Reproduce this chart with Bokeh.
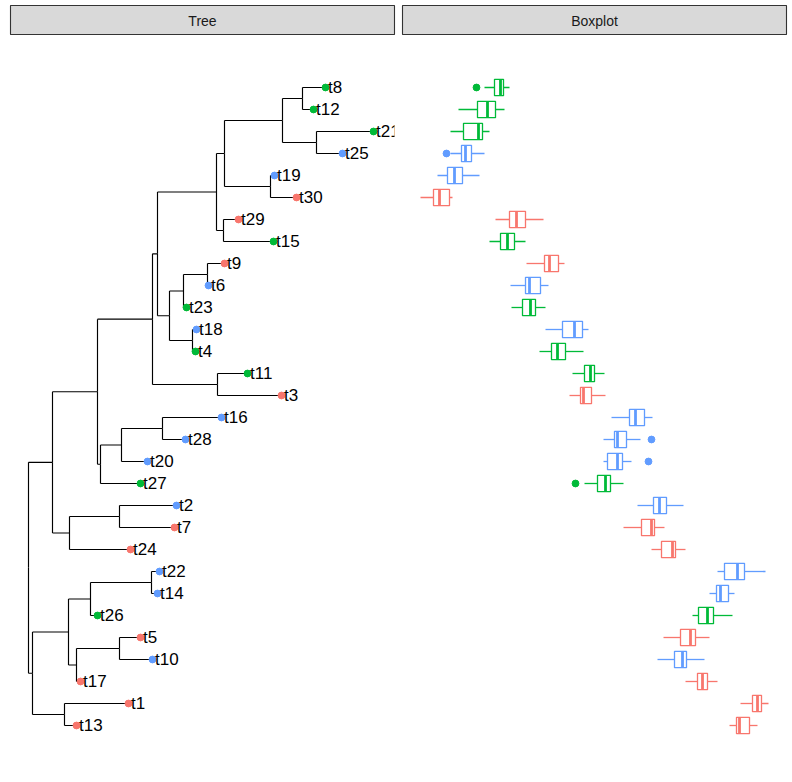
from bokeh.plotting import figure
from bokeh.layouts import row, column
from bokeh.models import Range1d, ColumnDataSource
from bokeh.core.properties import value
from bokeh.embed import file_html
from bokeh.resources import INLINE

# ---------------- data ----------------
panel_titles = ["Tree", "Boxplot"]

# tips listed from top to bottom
tip_order = ["t8", "t12", "t21", "t25", "t19", "t30", "t29", "t15", "t9", "t6",
             "t23", "t18", "t4", "t11", "t3", "t16", "t28", "t20", "t27", "t2",
             "t7", "t24", "t22", "t14", "t26", "t5", "t10", "t17", "t1", "t13"]
tip_group = ["b", "b", "b", "c", "c", "a", "a", "b", "a", "c",
             "b", "c", "b", "b", "a", "c", "c", "c", "b", "c",
             "a", "a", "c", "c", "b", "a", "c", "a", "a", "a"]
group_levels = ["a", "b", "c"]
group_colors = ["#F8766D", "#00BA38", "#619CFF"]

# tree edges: parent, child, branch length
edge_parent = ["n0", "n0", "n1", "n1", "n2", "n2", "n3", "n3", "n4", "n4",
               "n5", "n5", "n6", "n6", "n7", "n7", "n8", "n8", "n9", "n9",
               "n10", "n10", "n11", "n11", "n12", "n12", "n13", "n13", "n14", "n14",
               "n15", "n15", "n16", "n16", "n17", "n17", "n18", "n18", "n19", "n19",
               "n20", "n20", "n21", "n21", "n22", "n22", "n23", "n23", "n24", "n24",
               "n25", "n25", "n26", "n26", "n27", "n27", "n28", "n28"]
edge_child = ["n1", "n22", "n2", "n20", "n3", "n17", "n4", "n16", "n5", "n12",
              "n6", "n11", "n7", "n10", "n8", "n9", "t8", "t12", "t21", "t25",
              "t19", "t30", "t29", "t15", "n13", "n15", "n14", "t23", "t9", "t6",
              "t18", "t4", "t11", "t3", "n18", "t27", "n19", "t20", "t16", "t28",
              "n21", "t24", "t2", "t7", "n23", "n28", "n24", "n26", "n25", "t26",
              "t22", "t14", "n27", "t17", "t5", "t10", "t1", "t13"]
edge_length = [0.24, 0.04, 0.45, 0.17, 0.55, 0.03, 0.05, 0.65, 0.59, 0.12,
               0.08, 0.07, 0.58, 0.46, 0.20, 0.34, 0.23, 0.11, 0.57, 0.26,
               0.04, 0.26, 0.15, 0.50, 0.14, 0.23, 0.24, 0.03, 0.17, 0.01,
               0.04, 0.03, 0.30, 0.64, 0.21, 0.40, 0.41, 0.26, 0.59, 0.23,
               0.50, 0.61, 0.57, 0.55, 0.36, 0.32, 0.22, 0.08, 0.61, 0.07,
               0.08, 0.06, 0.43, 0.04, 0.21, 0.33, 0.64, 0.12]

# boxplot statistics per tip (same order as tip_order)
box_lower = [8.4, 5.8, 5.0, 5.0, 3.7, 2.0, 9.5, 8.9, 12.6, 11.0,
             11.1, 14.5, 13.9, 17.2, 16.9, 21.1, 20.3, 20.3, 18.4, 23.7,
             22.3, 25.1, 31.7, 30.9, 29.2, 26.3, 25.7, 28.5, 34.0, 32.9]
box_q1 = [9.4, 7.7, 6.3, 6.1, 4.7, 3.3, 10.9, 10.0, 14.4, 12.5,
          12.2, 16.2, 15.1, 18.4, 18.0, 22.9, 21.4, 20.7, 19.7, 25.3,
          24.1, 26.1, 32.4, 31.6, 29.8, 28.0, 27.4, 29.7, 35.2, 33.6]
box_median = [10.0, 8.7, 7.8, 6.5, 5.4, 3.9, 11.6, 10.7, 14.9, 12.9,
              13.0, 17.4, 15.7, 19.0, 18.3, 23.5, 21.7, 21.7, 20.5, 25.9,
              25.1, 27.2, 33.7, 32.0, 30.7, 29.0, 28.2, 30.2, 35.7, 33.9]
box_q3 = [10.3, 9.5, 8.2, 7.1, 6.2, 4.9, 12.5, 11.4, 15.8, 14.0,
          13.5, 18.2, 16.5, 19.4, 19.1, 24.4, 22.6, 22.2, 21.0, 26.6,
          25.4, 27.5, 34.4, 32.8, 31.3, 29.5, 28.6, 30.7, 36.1, 34.9]
box_upper = [10.9, 10.4, 8.9, 8.4, 7.9, 5.2, 14.3, 12.5, 16.4, 14.8,
             14.5, 18.8, 18.3, 20.4, 20.5, 25.2, 24.0, 23.1, 22.3, 28.3,
             26.4, 28.5, 36.5, 33.4, 33.2, 30.9, 30.4, 31.7, 36.8, 35.7]
outlier_tip = ["t8", "t25", "t28", "t20", "t27"]
outlier_value = [7.6, 4.6, 25.1, 24.8, 17.5]

# ---------------- layout of the tree ----------------
children = {}
for par, ch, ln in zip(edge_parent, edge_child, edge_length):
    children.setdefault(par, []).append((ch, ln))

depth = {"n0": 0.0}
bfs = ["n0"]
for node in bfs:
    for ch, ln in children.get(node, []):
        depth[ch] = depth[node] + ln
        bfs.append(ch)

ypos = {t: len(tip_order) - i for i, t in enumerate(tip_order)}
for node in reversed(bfs):
    if node not in ypos:
        ys = [ypos[c] for c, _ in children[node]]
        ypos[node] = sum(ys) / len(ys)

color_of = dict(zip(group_levels, group_colors))
tip_colors = [color_of[g] for g in tip_group]

# horizontal and vertical branch segments
hx0 = [depth[p] for p in edge_parent]
hx1 = [depth[c] for c in edge_child]
hy = [ypos[c] for c in edge_child]
vx = [depth[p] for p in edge_parent]
vy0 = [ypos[p] for p in edge_parent]
vy1 = [ypos[c] for c in edge_child]

tip_x = [depth[t] for t in tip_order]
tip_y = [ypos[t] for t in tip_order]

Y_RANGE = Range1d(-1.2727, 32.3636)
FONT = value("Liberation Sans")


def base_fig(frame_h, xr, yr, left, right, top, bottom, **kw):
    f = figure(frame_width=384, frame_height=frame_h, x_range=xr, y_range=yr,
               output_backend="svg", toolbar_location=None,
               x_axis_type=None, y_axis_type=None,
               min_border_left=left, min_border_right=right,
               min_border_top=top, min_border_bottom=bottom,
               border_fill_color="white", **kw)
    return f


def strip(label, left, right):
    s = base_fig(30, Range1d(0, 1), Range1d(0, 1), left, right, 5, 0,
                 background_fill_color="#D9D9D9", outline_line_color="#333333",
                 outline_line_width=1.1)
    s.text(x=[0.5], y=[0.5], text=[label], text_align="center",
           text_baseline="middle", text_font=FONT, text_font_size="14px",
           text_color="#1A1A1A")
    return s


# ---------------- tree panel ----------------
p1 = base_fig(740, Range1d(-0.18, 3.66), Y_RANGE, 10, 4, 0, 7,
              background_fill_color="white", outline_line_color=None)
p1.segment(x0=hx0, y0=hy, x1=hx1, y1=hy, line_color="black", line_width=1.15)
p1.segment(x0=vx, y0=vy0, x1=vx, y1=vy1, line_color="black", line_width=1.15)
tips = ColumnDataSource(dict(x=tip_x, y=tip_y, label=tip_order, color=tip_colors))
p1.scatter(x="x", y="y", source=tips, size=6.8, fill_color="color", line_color="color")
p1.text(x="x", y="y", text="label", source=tips, x_offset=2.5, text_baseline="middle",
        text_align="left", text_font=FONT, text_font_size="17px", text_color="black")

# ---------------- boxplot panel ----------------
p2 = base_fig(740, Range1d(0.2, 38.6), Y_RANGE, 4, 6, 0, 7,
              background_fill_color="white", outline_line_color=None)
box_h = 0.74
bsrc = ColumnDataSource(dict(
    y=tip_y, lo=box_lower, q1=box_q1, med=box_median, q3=box_q3, hi=box_upper,
    ylo=[y - box_h / 2 for y in tip_y], yhi=[y + box_h / 2 for y in tip_y],
    color=tip_colors))
p2.segment(x0="lo", y0="y", x1="q1", y1="y", source=bsrc, line_color="color", line_width=1.3)
p2.segment(x0="q3", y0="y", x1="hi", y1="y", source=bsrc, line_color="color", line_width=1.3)
p2.hbar(y="y", left="q1", right="q3", height=box_h, source=bsrc,
        fill_color="white", line_color="color", line_width=1.3)
p2.segment(x0="med", y0="ylo", x1="med", y1="yhi", source=bsrc,
           line_color="color", line_width=2.8)
out_y = [ypos[t] for t in outlier_tip]
out_c = [tip_colors[tip_order.index(t)] for t in outlier_tip]
p2.scatter(x=outlier_value, y=out_y, size=6.8, fill_color=out_c, line_color=out_c)

s1 = strip(panel_titles[0], 10, 4)
s2 = strip(panel_titles[1], 4, 6)

layout = column(row(s1, s2), row(p1, p2))

open("out.html", "w").write(file_html(layout, INLINE))
